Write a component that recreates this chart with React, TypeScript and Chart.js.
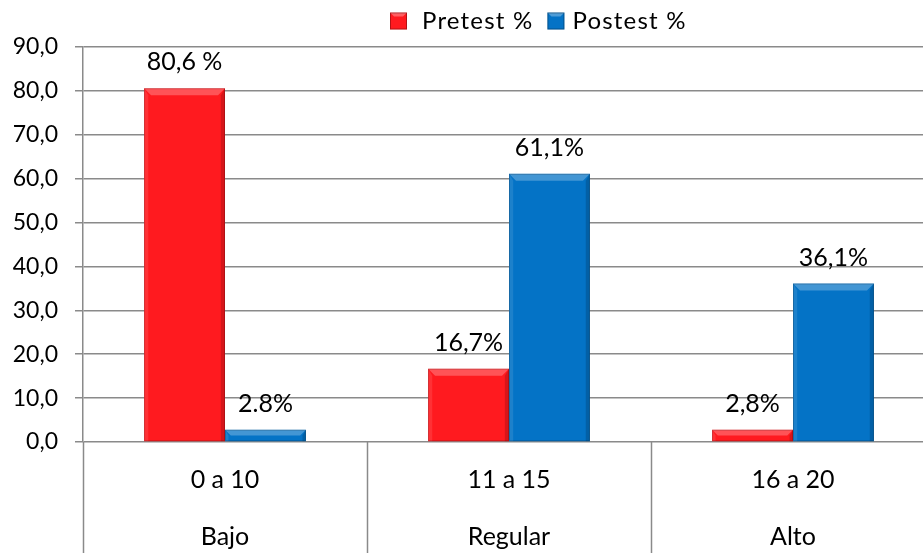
import React, { useEffect, useRef } from 'react';
import { Chart, registerables } from 'chart.js';

Chart.register(...registerables);

const categories = ['0 a 10', '11 a 15', '16 a 20'];
const levels = ['Bajo', 'Regular', 'Alto'];
const seriesNames = ['Pretest %', 'Postest %'];
const pretest = [80.6, 16.7, 2.8];
const postest = [2.8, 61.1, 36.1];
const pretestLabels = ['80,6 %', '16,7%', '2,8%'];
const postestLabels = ['2.8%', '61,1%', '36,1%'];
const yMin = 0;
const yMax = 90;
const yStep = 10;

const RED = '#ff1a1f';
const BLUE = '#0473c6';
const GRID = '#8a8a8a';
const FONT = "Lato, 'Open Sans', sans-serif";
const TEXT = '#000';

const valueLabels = [pretestLabels, postestLabels];
const seriesColors = [RED, BLUE];

const bevelPlugin = {
  id: 'bevel',
  afterDatasetsDraw(chart: any) {
    const ctx = chart.ctx;
    chart.data.datasets.forEach((_: any, di: number) => {
      const meta = chart.getDatasetMeta(di);
      meta.data.forEach((el: any) => {
        const p = el.getProps(['x', 'y', 'base', 'width'], true);
        const l = p.x - p.width / 2;
        const r = p.x + p.width / 2;
        const t = Math.min(p.y, p.base);
        const bt = Math.max(p.y, p.base);
        const h = bt - t;
        const b = Math.min(7, h / 2);
        ctx.save();
        ctx.fillStyle = 'rgba(255,255,255,0.25)';
        ctx.beginPath();
        ctx.moveTo(l, t);
        ctx.lineTo(r, t);
        ctx.lineTo(r - b, t + b);
        ctx.lineTo(l + b, t + b);
        ctx.closePath();
        ctx.fill();
        ctx.fillStyle = 'rgba(0,0,0,0.16)';
        ctx.beginPath();
        ctx.moveTo(r, t);
        ctx.lineTo(r, bt);
        ctx.lineTo(r - b * 0.6, bt);
        ctx.lineTo(r - b * 0.6, t + b);
        ctx.closePath();
        ctx.fill();
        ctx.fillStyle = 'rgba(255,255,255,0.1)';
        ctx.beginPath();
        ctx.moveTo(l, t);
        ctx.lineTo(l + b * 0.6, t + b);
        ctx.lineTo(l + b * 0.6, bt);
        ctx.lineTo(l, bt);
        ctx.closePath();
        ctx.fill();
        ctx.strokeStyle = 'rgba(0,0,0,0.18)';
        ctx.lineWidth = 1;
        ctx.strokeRect(l + 0.5, t + 0.5, r - l - 1, h - 1);
        ctx.restore();
      });
    });
  },
};

const labelsPlugin = {
  id: 'valueLabels',
  afterDatasetsDraw(chart: any) {
    const ctx = chart.ctx;
    ctx.save();
    ctx.font = `25px ${FONT}`;
    ctx.fillStyle = TEXT;
    ctx.textAlign = 'center';
    ctx.textBaseline = 'middle';
    chart.data.datasets.forEach((_: any, di: number) => {
      const meta = chart.getDatasetMeta(di);
      meta.data.forEach((el: any, i: number) => {
        const p = el.getProps(['x', 'y'], true);
        ctx.fillText(valueLabels[di][i], p.x, p.y - 26);
      });
    });
    ctx.restore();
  },
};

const dividersPlugin = {
  id: 'dividers',
  afterDraw(chart: any) {
    const ctx = chart.ctx;
    const xs = chart.scales.x;
    ctx.save();
    ctx.strokeStyle = GRID;
    ctx.lineWidth = 1.5;
    for (let i = 0; i <= categories.length; i++) {
      const x = Math.round(xs.getPixelForValue(i - 0.5)) + 0.5;
      ctx.beginPath();
      ctx.moveTo(x, chart.chartArea.bottom);
      ctx.lineTo(x, chart.height);
      ctx.stroke();
    }
    ctx.restore();
  },
};

const legendPlugin = {
  id: 'customLegend',
  afterDraw(chart: any) {
    const ctx = chart.ctx;
    ctx.save();
    ctx.font = `24px ${FONT}`;
    (ctx as any).letterSpacing = '1.2px';
    ctx.textBaseline = 'middle';
    ctx.textAlign = 'left';
    let x = 390;
    const cy = 21;
    seriesNames.forEach((name, i) => {
      const s = 17;
      ctx.fillStyle = seriesColors[i];
      ctx.fillRect(x, cy - s / 2, s, s);
      ctx.fillStyle = 'rgba(255,255,255,0.3)';
      ctx.beginPath();
      ctx.moveTo(x, cy - s / 2);
      ctx.lineTo(x + s, cy - s / 2);
      ctx.lineTo(x + s - 4, cy - s / 2 + 4);
      ctx.lineTo(x + 4, cy - s / 2 + 4);
      ctx.closePath();
      ctx.fill();
      ctx.strokeStyle = 'rgba(0,0,0,0.3)';
      ctx.lineWidth = 1;
      ctx.strokeRect(x + 0.5, cy - s / 2 + 0.5, s - 1, s - 1);
      ctx.fillStyle = TEXT;
      const tx = i === 0 ? x + 32 : x + 25;
      ctx.fillText(name, tx, cy);
      x = tx + ctx.measureText(name).width + 14;
    });
    ctx.restore();
  },
};

export default function App() {
  const ref = useRef<HTMLCanvasElement | null>(null);

  useEffect(() => {
    if (!ref.current) return;
    const chart = new Chart(ref.current, {
      type: 'bar',
      data: {
        labels: categories.map((c, i) => [c, levels[i]]),
        datasets: [
          {
            label: seriesNames[0],
            data: pretest,
            backgroundColor: RED,
            barPercentage: 1,
            categoryPercentage: 0.57,
          },
          {
            label: seriesNames[1],
            data: postest,
            backgroundColor: BLUE,
            barPercentage: 1,
            categoryPercentage: 0.57,
          },
        ],
      },
      options: {
        responsive: false,
        animation: false,
        devicePixelRatio: 1,
        layout: { padding: { top: 47, right: 0, bottom: 0, left: 0 } },
        plugins: {
          legend: { display: false },
          tooltip: { enabled: false },
        },
        scales: {
          x: {
            offset: true,
            grid: { display: false, drawTicks: false },
            border: { display: false },
            ticks: {
              color: TEXT,
              font: { family: FONT, size: 25, lineHeight: 2.28 },
              padding: 9.5,
              maxRotation: 0,
              autoSkip: false,
            },
            afterFit: (s: any) => {
              s.height = 111;
            },
          },
          y: {
            min: yMin,
            max: yMax,
            grid: { color: GRID, lineWidth: 1.5, tickLength: 8, drawTicks: true },
            border: { display: true, color: GRID, width: 1.5 },
            ticks: {
              stepSize: yStep,
              color: TEXT,
              padding: 17,
              font: { family: FONT, size: 23 },
              callback: (v: any) => Number(v).toFixed(1).replace('.', ','),
            },
            afterFit: (s: any) => {
              s.width = 83;
            },
          },
        },
      },
      plugins: [bevelPlugin, labelsPlugin, dividersPlugin, legendPlugin],
    });
    return () => chart.destroy();
  }, []);

  return (
    <div
      style={{
        position: 'fixed',
        left: 0,
        top: 0,
        width: 923,
        height: 553,
        overflow: 'hidden',
        background: '#fff',
      }}
    >
      <canvas ref={ref} width={935} height={553} style={{ width: 935, height: 553, display: 'block' }} />
    </div>
  );
}
